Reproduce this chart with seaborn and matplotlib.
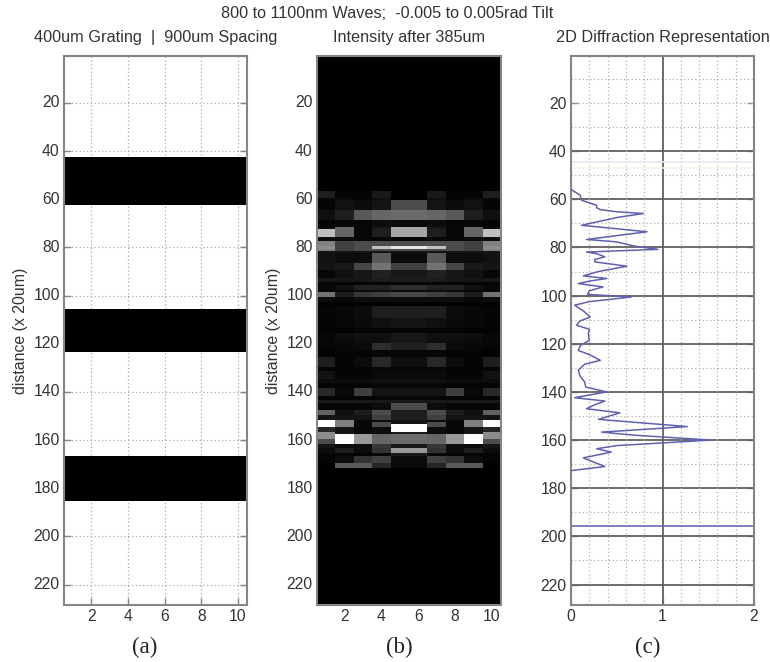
import numpy as np
import seaborn as sns
import matplotlib.pyplot as plt

# grating slits (black rows, inclusive)
slit_start = [43, 106, 167]
slit_end = [62, 123, 185]

# intensity bands after 385um, each runs up to the next start row
band_start = [57, 60, 61, 65, 69, 72, 73, 76, 78, 80, 81, 82, 83, 87, 90, 93, 95, 96, 98, 99,
              101, 103, 105, 110, 114, 116, 120, 123, 126, 130, 132, 135, 137, 139, 142, 144,
              145, 148, 150, 152, 153, 154, 155, 157, 158, 160, 162, 164, 166, 167, 170, 172]
col1 = [.12, .03, .02, .06, .02, .05, .75, .05, .50, .55, .50, .08, .07, .08, .03, .09, .02, .03, .03, .45,
        .05, .01, .02, .02, .01, .03, .02, .01, .12, .02, .07, .05, .02, .16, .02, .10,
        .03, .38, .08, 1.0, 1.0, 1.0, .15, .55, .55, .30, .08, .05, .02, .02, 0, 0]
col2 = [.02, .05, .07, .12, .03, .40, .40, .05, .25, .25, .25, .08, .05, .10, .07, .09, .02, .07, .03, .12,
        .03, .01, .03, .03, .01, .05, .03, .02, .02, .02, .02, .05, .02, .03, .02, .10,
        .03, .06, .08, .50, .50, .50, .08, .08, 1.0, 1.0, .05, .12, .02, .05, .35, 0]
col3 = [.02, .02, .05, .35, .03, .03, .03, .03, .30, .30, .30, .08, .05, .28, .09, .09, .03, .13, .04, .22,
        .05, .01, .05, .04, .02, .06, .04, .02, .05, .02, .02, .05, .02, .25, .02, .10,
        .03, .12, .08, .03, .03, .03, .03, .04, .60, .60, .05, .05, .02, .20, .35, 0]
col4 = [.10, .06, .08, .40, .05, .10, .12, .03, .30, .75, .30, .08, .35, .45, .13, .11, .03, .13, .05, .25,
        .05, .01, .12, .06, .02, .06, .18, .03, .16, .03, .04, .07, .03, .08, .02, .10,
        .05, .30, .25, .05, .30, .30, .05, .05, .40, .40, .22, .20, .03, .25, .15, 0]
col5 = [0, 0, .30, .42, .05, .65, .65, .03, .30, .90, .30, .08, .05, .25, .10, .11, .03, .18, .05, .28,
        .05, .01, .12, .08, .02, .09, .12, .03, .06, .03, .04, .07, .03, .08, .02, .10,
        .30, .12, .12, .08, .08, 1.0, 1.0, .10, .42, .42, .10, .60, .10, .05, .04, 0]

# diffraction profile
profile_row = [55.9, 58.3, 60.4, 62.5, 63.5, 64.3, 65.2, 65.9, 67.6, 70.8, 73.5, 76.7, 77.7, 79.5, 80.8, 81.9,
               82.6, 83.9, 85, 86, 87.8, 90, 91.8, 92.9, 94, 95, 96.4, 98, 99.5, 100.6, 102.5, 104,
               106.5, 108.9, 110.5, 112.3, 114, 115.8, 118.6,
               120.8, 122.8, 124.5, 126.9, 128.5, 131, 133.5, 135.9, 138, 140, 142.4, 143.8, 145.5, 147, 148.7,
               151.4, 154.4, 156.7, 158, 160, 162.3, 163.6, 165, 167.4, 171, 172.7]
profile_val = [0, .1, .115, .28, .28, .32, .5, .79, .5, .115, .83, .17, .5, .7, .95, .17,
               .28, .37, .26, .26, .61, .3, .135, .39, .2, .08, .35, .2, .18, .66, .2, .04,
               .14, .21, .1, .06, .2, .19, .2,
               .1, .08, .2, .32, .15, .08, .1, .15, .16, .39, .04, .37, .25, .17, .535,
               .3, 1.27, .335, .7, 1.53, .5, .28, .44, .135, .37, 0]
stray_rows = [44.5, 47, 195.5]
stray_cols = ['#e6e6f5', '#f5f5e4', '#6a6ab0']

n_rows = 228
y_ticks = list(range(20, 221, 20))
x_ticks = [2, 4, 6, 8, 10]
edge = '#858585'
txt = '#333333'
dots = (0, (1, 2))

sns.set_theme(style='white')
plt.rcParams['font.family'] = ['Liberation Sans', 'DejaVu Sans']

grating = np.zeros((n_rows, 10))
for s, e in zip(slit_start, slit_end):
    grating[s - 1:e, :] = 1

half = np.column_stack([col1, col2, col3, col4, col5])
intensity = np.zeros((n_rows, 10))
for i, s in enumerate(band_start):
    e = band_start[i + 1] if i + 1 < len(band_start) else n_rows + 1
    intensity[s - 1:e - 1, :] = np.concatenate([half[i], half[i][::-1]])

W, H = 770, 662
fig = plt.figure(figsize=(W / 100, H / 100), dpi=100)


def panel(x0, x1):
    return fig.add_axes([x0 / W, 1 - 605 / H, (x1 - x0) / W, (605 - 56) / H])


def finish(ax, title):
    for sp in ax.spines.values():
        sp.set_visible(True)
        sp.set_color(edge)
        sp.set_linewidth(1.5)
    ax.tick_params(axis='both', direction='in', length=5, width=1, color=edge, labelcolor=txt,
                   labelsize=11.3, pad=3, left=True, bottom=True, right=True, labelrotation=0)
    ax.set_title(title, fontsize=11.7, color=txt, pad=10)


# (a) grating
ax1 = panel(64, 247)
sns.heatmap(grating, mask=grating == 0, cmap=['black'], cbar=False, ax=ax1, rasterized=True)
ax1.set_axisbelow(True)
ax1.set_xticks([t - .5 for t in x_ticks], x_ticks)
ax1.set_yticks([t - .5 for t in y_ticks], y_ticks)
ax1.grid(True, linestyle=dots, color='#a8a8a8', linewidth=.9)
ax1.set_ylabel('distance (x 20um)', fontsize=11.4, color=txt, labelpad=4)
finish(ax1, '400um Grating  |  900um Spacing')

# (b) intensity
ax2 = panel(317, 501)
sns.heatmap(intensity, cmap='gray', vmin=0, vmax=1, cbar=False, ax=ax2, rasterized=True)
ax2.set_xticks([t - .5 for t in x_ticks], x_ticks)
ax2.set_yticks([t - .5 for t in y_ticks], y_ticks)
ax2.set_ylabel('distance (x 20um)', fontsize=11.4, color=txt, labelpad=4)
finish(ax2, 'Intensity after 385um')

# (c) profile
ax3 = panel(571, 754)
ax3.set_axisbelow(True)
for r in range(10, 221, 10):
    if r >= 40 and r % 20 == 0:
        ax3.axhline(r, color='#606060', lw=1.3, zorder=1)
    else:
        ax3.axhline(r, color='#b0b0b0', ls=dots, lw=.9, zorder=1)
for v in np.arange(.2, 2, .2):
    if abs(v - 1) < .01:
        ax3.axvline(v, color='#606060', lw=1.3, zorder=1)
    else:
        ax3.axvline(v, color='#b0b0b0', ls=dots, lw=.9, zorder=1)
for r, c in zip(stray_rows, stray_cols):
    ax3.axhline(r, color=c, lw=1.2, zorder=2)
sns.lineplot(x=profile_val, y=profile_row, sort=False, estimator=None, color='#6060b0', lw=1.1, ax=ax3, zorder=3)
ax3.set_xlim(0, 2)
ax3.set_ylim(228.5, .5)
ax3.set_xticks([0, 1, 2], [0, 1, 2])
ax3.set_yticks(y_ticks, y_ticks)
finish(ax3, '2D Diffraction Representation')

fig.text(387 / W, 1 - 13 / H, '800 to 1100nm Waves;  -0.005 to 0.005rad Tilt', fontsize=11.7,
         color=txt, ha='center', va='center')
for lab, xp in zip(['(a)', '(b)', '(c)'], [145, 399, 648]):
    fig.text(xp / W, 1 - 647 / H, lab, fontsize=16.5, family='Liberation Serif', color='#222222',
             ha='center', va='center')

fig.savefig('out.png', dpi=100)
